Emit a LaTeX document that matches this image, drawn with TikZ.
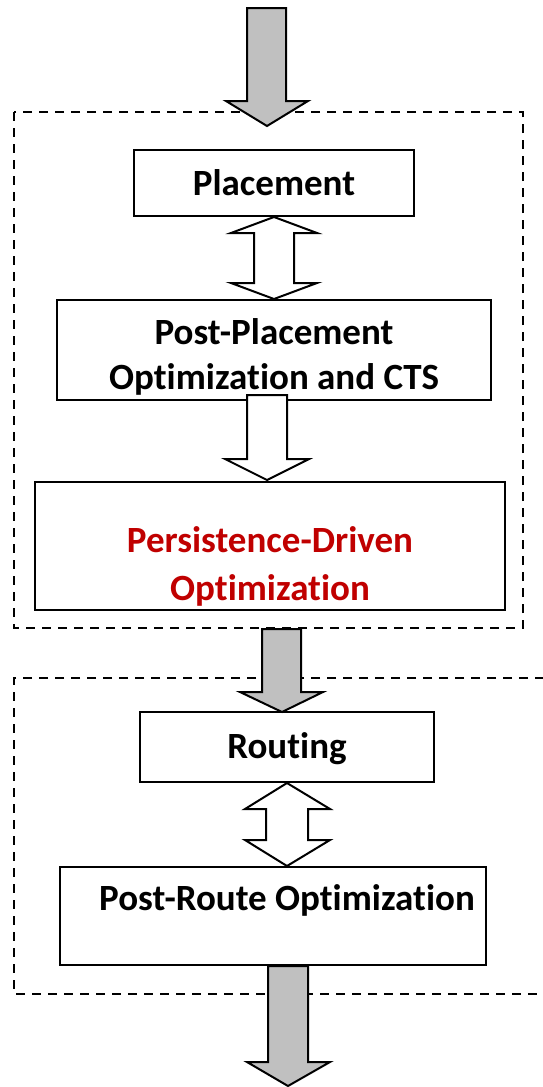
\documentclass[tikz,border=0pt]{standalone}
\usepackage{fontspec}
\setmainfont{Carlito}[Ligatures={NoCommon,NoRequired,NoContextual}]
\definecolor{boxred}{HTML}{C00000}
\definecolor{arrowgray}{HTML}{C0C0C0}
\begin{document}
\begin{tikzpicture}[x=1pt,y=-1pt,
  stagebox/.style={draw=black,line width=2.4pt,inner sep=0pt},
  stagetext/.style={font=\bfseries\fontsize{37}{45}\selectfont,align=center,inner sep=0pt},
  groupbox/.style={draw=black,line width=2pt,dash pattern=on 9pt off 7pt},
  grayarrow/.style={draw=black,line width=2pt,fill=arrowgray,line join=miter},
  whitearrow/.style={draw=black,line width=2pt,fill=white,line join=miter}]
\clip (0,0) rectangle (543,1087);
\fill[white] (0,0) rectangle (543,1087);

% group boxes
\draw[groupbox] (14,112) rectangle (523,628);
\draw[groupbox] (560,678) -- (14,678) -- (14,994) -- (560,994);

% stage boxes
\node[stagebox,minimum width=280pt,minimum height=66pt] (pl) at (274,183) {};
\node[stagebox,minimum width=434pt,minimum height=100pt] (pp) at (274,350) {};
\node[stagebox,minimum width=470pt,minimum height=128pt] (pd) at (270,546) {};
\node[stagebox,minimum width=294pt,minimum height=70pt] (rt) at (287,747) {};
\node[stagebox,minimum width=426pt,minimum height=98pt] (pr) at (273,916) {};

% texts
\node[stagetext] (plt) at (274,183) {Placement};
\node[stagetext] (ppt) at (274,357) {Post-Placement\\Optimization and CTS};
\node[stagetext,text=boxred,font=\bfseries\fontsize{37}{48}\selectfont] (pdt) at (270,566) {Persistence-Driven\\Optimization};
\node[stagetext] (rtt) at (287,749) {Routing};
\node[stagetext] (prt) at (287,900) {Post-Route Optimization};

% top input arrow
\coordinate (in) at (267,8);
\draw[grayarrow] (247,8) -- (286,8) -- (286,101) -- (308,101) -- (267,126) -- (226,101) -- (247,101) -- cycle;

% double arrow placement <-> post-placement
\draw[whitearrow] (274,217) -- (317,233) -- (294,233) -- (294,283) -- (317,283) -- (274,299)
  -- (231,283) -- (254,283) -- (254,233) -- (231,233) -- cycle;

% post-placement -> persistence
\draw[whitearrow] (247,395) -- (287,395) -- (287,459) -- (309,459) -- (267,480) -- (225,459) -- (247,459) -- cycle;

% group 1 -> routing
\draw[grayarrow] (262,629) -- (301,629) -- (301,692) -- (323,692) -- (282,712) -- (240,692) -- (262,692) -- cycle;

% routing <-> post-route
\draw[whitearrow] (287,783) -- (330,809) -- (308,809) -- (308,840) -- (330,840) -- (287,866)
  -- (245,840) -- (266,840) -- (266,809) -- (245,809) -- cycle;

% output arrow
\draw[grayarrow] (268,966) -- (308,966) -- (308,1062) -- (330,1062) -- (288,1086) -- (247,1062) -- (268,1062) -- cycle;
\end{tikzpicture}
\end{document}
